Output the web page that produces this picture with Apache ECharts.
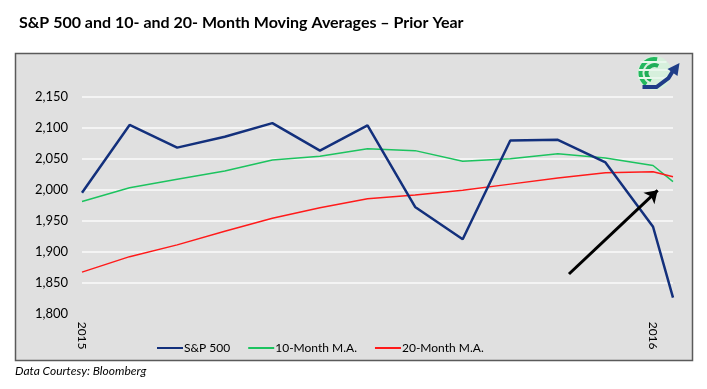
<!DOCTYPE html>
<html><head><meta charset="utf-8">
<script src="https://cdn.jsdelivr.net/npm/echarts@6/dist/echarts.min.js"></script>
<style>html,body{margin:0;padding:0;background:#fff}#c{width:707px;height:389px}</style>
</head><body><div id="c"></div>
<script>
// Observation dates (read from the horizontal positions)
var dates = ['2015-01-01','2015-02-01','2015-03-01','2015-04-01','2015-05-01','2015-06-01','2015-07-01',
             '2015-08-01','2015-09-01','2015-10-01','2015-11-01','2015-12-01','2016-01-01','2016-01-14'];
var sp500 = [1995.0, 2104.5, 2067.9, 2085.5, 2107.4, 2063.1, 2103.8, 1972.2, 1920.0, 2079.4, 2080.4, 2043.9, 1940.2, 1826.0];
var ma10  = [1981, 2003, 2017, 2030, 2048, 2054, 2066, 2063, 2046, 2050, 2058, 2051, 2039, 2013];
var ma20  = [1867, 1892, 1911, 1933, 1954, 1971, 1985.5, 1991.5, 1999, 2009, 2019, 2027.5, 2029, 2021];
var seriesNames = ['S&P 500', '10-Month M.A.', '20-Month M.A.'];
var yearLabels = ['2015', '2016'];
var yTicks = [1800, 1850, 1900, 1950, 2000, 2050, 2100, 2150];
// annotation arrow (date, value) start -> end
var arrowFrom = ['2015-11-08', 1864];
var arrowTo = ['2016-01-04', 1999];

function monthIndex(s) {
  var p = s.split('-').map(Number);
  var dim = new Date(p[0], p[1], 0).getDate();
  return (p[0] - 2015) * 12 + (p[1] - 1) + (p[2] - 1) / dim;
}
var xs = dates.map(monthIndex);
function pairs(vals) { return vals.map(function (v, i) { return [xs[i], v]; }); }
var xMax = xs[xs.length - 1];

var font = 'Lato, "Open Sans", sans-serif';
var chart = echarts.init(document.getElementById('c'));
chart.setOption({
  animation: false,
  textStyle: { fontFamily: font },
  title: {
    text: 'S&P 500 and 10- and 20- Month Moving Averages \u2013 Prior Year',
    left: 14, top: 10,
    textStyle: { fontFamily: font, fontWeight: 'bold', fontSize: 16, color: '#000' }
  },
  graphic: [
    { type: 'rect', z: -10, silent: true, shape: { x: 15.5, y: 53.5, width: 677, height: 307 },
      style: { fill: '#e0e0e0', stroke: '#5a5a5a', lineWidth: 1.5 } },
    { type: 'text', left: 15, top: 365, style: { text: 'Data Courtesy: Bloomberg', font: 'italic 12px ' + font, fill: '#000' } },
    { type: 'group', left: 636, top: 56, children: [
      { type: 'circle', shape: { cx: 24, cy: 19, r: 17 }, style: { fill: '#d6f0dc' } },
      { type: 'arc', shape: { cx: 24, cy: 19, r: 14, startAngle: 2.2, endAngle: 4.9 }, style: { stroke: '#22b85e', lineWidth: 4, fill: 'none' } },
      { type: 'arc', shape: { cx: 24, cy: 19, r: 8, startAngle: 2.0, endAngle: 5.2 }, style: { stroke: '#1fae58', lineWidth: 4, fill: 'none' } },
      { type: 'line', shape: { x1: 10, y1: 8, x2: 36, y2: 8 }, style: { stroke: '#e8f7ec', lineWidth: 2 } },
      { type: 'line', shape: { x1: 8, y1: 16, x2: 40, y2: 16 }, style: { stroke: '#e8f7ec', lineWidth: 2 } },
      { type: 'line', shape: { x1: 8, y1: 24, x2: 40, y2: 24 }, style: { stroke: '#e8f7ec', lineWidth: 2 } },
      { type: 'polyline', shape: { points: [[12, 33], [26, 33], [38, 24], [43, 16]] }, style: { stroke: '#1f3c88', lineWidth: 4, fill: 'none' } },
      { type: 'polygon', shape: { points: [[37, 15], [49, 9], [47, 22]] }, style: { fill: '#1f3c88' } }
    ] }
  ],
  legend: {
    data: seriesNames, bottom: 30, left: 152, itemGap: 18, itemWidth: 26, itemHeight: 10,
    textStyle: { fontFamily: font, fontSize: 12, color: '#000', padding: [0, 0, 0, -4] },
    icon: 'path://M0,4 L26,4 L26,6 L0,6 Z'
  },
  grid: { left: 82, right: 34, top: 65.7, bottom: 75.3 },
  xAxis: {
    type: 'value', min: 0, max: xMax, interval: 12,
    axisLine: { show: false }, axisTick: { show: false }, splitLine: { show: false },
    axisLabel: {
      rotate: -90, margin: 8, fontSize: 12, color: '#000', showMaxLabel: false,
      formatter: function (v) { var i = Math.round(v / 12); return (Math.abs(v - i * 12) < 1e-6 && yearLabels[i]) ? yearLabels[i] : ''; }
    }
  },
  yAxis: {
    type: 'value', min: yTicks[0], max: 2200, interval: 50,
    axisLine: { show: false }, axisTick: { show: false },
    splitLine: { show: true, showMinLine: false, showMaxLine: false, lineStyle: { color: '#f4f4f4', width: 2 } },
    axisLabel: {
      margin: 14, fontSize: 13, color: '#000', showMaxLabel: false,
      formatter: function (v) { return yTicks.indexOf(v) >= 0 ? v.toLocaleString('en-US') : ''; }
    }
  },
  series: [
    { name: seriesNames[0], type: 'line', data: pairs(sp500), symbol: 'none', z: 3,
      lineStyle: { color: '#13307c', width: 2.5 }, itemStyle: { color: '#13307c' },
      markLine: { silent: true, symbol: ['none', 'arrow'], symbolSize: [12, 12], label: { show: false },
        lineStyle: { color: '#000', width: 3, type: 'solid' },
        data: [[{ coord: [monthIndex(arrowFrom[0]), arrowFrom[1]] }, { coord: [monthIndex(arrowTo[0]), arrowTo[1]] }]] } },
    { name: seriesNames[1], type: 'line', data: pairs(ma10), symbol: 'none', z: 2,
      lineStyle: { color: '#1cc35f', width: 1.5 }, itemStyle: { color: '#1cc35f' } },
    { name: seriesNames[2], type: 'line', data: pairs(ma20), symbol: 'none', z: 2,
      lineStyle: { color: '#ff1a1a', width: 1.5 }, itemStyle: { color: '#ff1a1a' } }
  ]
});
</script></body></html>
